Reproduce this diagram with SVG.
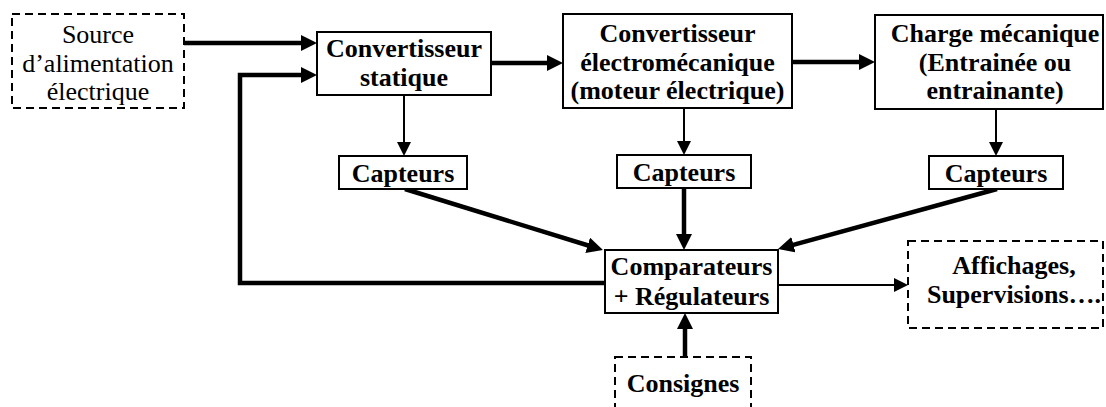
<svg xmlns="http://www.w3.org/2000/svg" width="1106" height="407" viewBox="0 0 1106 407">
<style>
.box{fill:#fff;stroke:#000;stroke-width:2}
.dash{fill:#fff;stroke:#000;stroke-width:2;stroke-dasharray:8,5}
.t{font-family:"Liberation Serif","Times New Roman",serif;font-size:26px;font-weight:bold;text-anchor:middle;fill:#000}
.r{font-family:"Liberation Serif","Times New Roman",serif;font-size:26px;text-anchor:middle;fill:#000}
.thick{fill:none;stroke:#000;stroke-width:4.5;marker-end:url(#ah)}
.thin{fill:none;stroke:#000;stroke-width:2;marker-end:url(#as)}
</style>
<defs>
<marker id="ah" viewBox="0 0 16 16" refX="4" refY="8" markerWidth="16" markerHeight="16" markerUnits="userSpaceOnUse" orient="auto"><path d="M0,0 L16,8 L0,16 z" fill="#000"/></marker>
<marker id="as" viewBox="0 0 14 14" refX="3" refY="7" markerWidth="14" markerHeight="14" markerUnits="userSpaceOnUse" orient="auto"><path d="M0,0 L14,7 L0,14 z" fill="#000"/></marker>
</defs>
<rect width="1106" height="407" fill="#fff"/>
<g id="connectors">
<path class="thick" d="M184,43 H305"/>
<path class="thick" style="marker-end:url(#ah)" d="M605,283 H240 V75 H305"/>
<path class="thick" d="M491,63 H551"/>
<path class="thick" d="M792,62 H863"/>
<path class="thin" d="M404,95 V145"/>
<path class="thin" d="M684,108 V144"/>
<path class="thin" d="M996,109 V145"/>
<path class="thick" d="M405,189 L591.5,246.5"/>
<path class="thick" d="M684,188 V238"/>
<path class="thick" d="M997,189 L789.6,245.8"/>
<path class="thick" d="M685,357 V325"/>
<path class="thin" d="M778,285 H897"/>
</g>
<g id="source">
<rect class="dash" x="12" y="14" width="172" height="94"/>
<text class="r" x="98" y="43">Source</text>
<text class="r" x="98" y="72">d’alimentation</text>
<text class="r" x="98" y="100">électrique</text>
</g>
<g id="conv-statique">
<rect class="box" x="317" y="32" width="174" height="63"/>
<text class="t" x="404" y="57">Convertisseur</text>
<text class="t" x="404" y="86">statique</text>
</g>
<g id="conv-electromeca">
<rect class="box" x="563" y="14" width="229" height="94"/>
<text class="t" x="677.5" y="42">Convertisseur</text>
<text class="t" x="677.5" y="71">électromécanique</text>
<text class="t" x="677.5" y="99">(moteur électrique)</text>
</g>
<g id="charge">
<rect class="box" x="875" y="15" width="228" height="94"/>
<text class="t" x="995" y="42">Charge mécanique</text>
<text class="t" x="995" y="71">(Entrainée ou</text>
<text class="t" x="995" y="99">entrainante)</text>
</g>
<g id="capteurs1">
<rect class="box" x="339" y="156" width="128" height="33"/>
<text class="t" x="403" y="182">Capteurs</text>
</g>
<g id="capteurs2">
<rect class="box" x="617" y="155" width="134" height="33"/>
<text class="t" x="684" y="181">Capteurs</text>
</g>
<g id="capteurs3">
<rect class="box" x="929" y="156" width="134" height="33"/>
<text class="t" x="996" y="182">Capteurs</text>
</g>
<g id="comparateurs">
<rect class="box" x="605" y="250" width="173" height="63"/>
<text class="t" x="691.5" y="275">Comparateurs</text>
<text class="t" x="691.5" y="305">+ Régulateurs</text>
</g>
<g id="affichages">
<rect class="dash" x="908" y="241" width="195" height="87"/>
<text class="t" x="1014" y="274">Affichages,</text>
<text class="t" x="1014" y="303">Supervisions….</text>
</g>
<g id="consignes">
<rect class="dash" x="615" y="357" width="136" height="60"/>
<text class="t" x="683" y="392">Consignes</text>
</g>
</svg>
